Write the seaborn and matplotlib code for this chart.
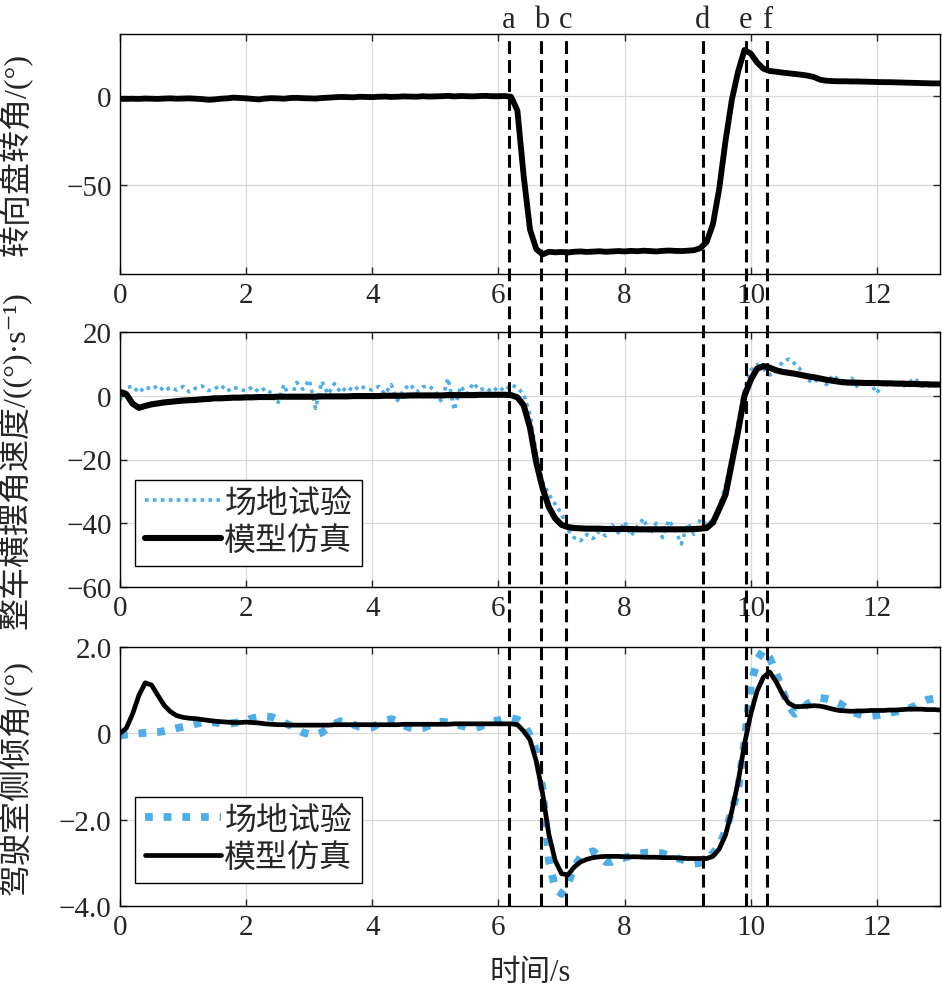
import numpy as np
import matplotlib
matplotlib.use("Agg")
import matplotlib.pyplot as plt
import seaborn as sns
from matplotlib.lines import Line2D
from matplotlib.transforms import blended_transform_factory

# time base of all series, 0.1 s step
t = np.round(np.arange(0, 13.01, 0.1), 1)

# steering wheel angle (deg)
steer = [
    -1.5, -1.5, -1.4, -1.5, -1.3, -1.4, -1.5, -1.3, -1.2, -1.4,
    -1.3, -1.2, -1.4, -1.6, -2.0, -1.8, -1.4, -1.2, -0.8, -1.0,
    -1.2, -1.5, -1.8, -1.3, -1.1, -1.2, -1.4, -1.0, -0.9, -1.1,
    -1.2, -1.3, -1.0, -0.8, -0.6, -0.4, -0.5, -0.6, -0.3, -0.4,
    -0.5, -0.3, -0.2, -0.4, -0.3, -0.1, -0.2, -0.3, 0.0, -0.2,
    -0.1, 0.0, 0.2, -0.1, 0.1, 0.0, -0.1, 0.1, 0.2, 0.0,
    0.0, 0.1, -0.3, -8.0, -45.0, -75.0, -86.0, -89.0, -87.5, -87.8,
    -87.6, -87.9, -87.5, -87.3, -87.6, -87.4, -87.2, -87.5, -87.3, -87.1,
    -87.3, -87.0, -87.2, -86.9, -87.1, -87.3, -87.0, -86.8, -87.0, -87.1,
    -86.9, -86.6, -85.5, -82.0, -72.0, -52.0, -25.0, -2.0, 14.0, 26.0,
    24.0, 19.0, 15.5, 14.2, 13.8, 13.3, 12.9, 12.5, 12.1, 11.6,
    10.8, 9.3, 8.7, 8.5, 8.4, 8.4, 8.3, 8.3, 8.2, 8.1,
    8.0, 7.9, 7.9, 7.8, 7.7, 7.6, 7.5, 7.4, 7.3, 7.2, 7.2,
]

# yaw rate (deg/s): simulation and field test
yaw_sim = [
    1.2, 0.5, -2.5, -3.8, -3.2, -2.7, -2.4, -2.1, -1.9, -1.7,
    -1.5, -1.4, -1.3, -1.1, -1.0, -0.8, -0.8, -0.7, -0.6, -0.6,
    -0.5, -0.5, -0.4, -0.4, -0.4, -0.3, -0.3, -0.3, -0.3, -0.3,
    -0.3, -0.3, -0.2, -0.2, -0.2, -0.2, -0.2, -0.1, -0.1, -0.1,
    -0.1, -0.1, 0.0, 0.0, 0.0, 0.0, 0.1, 0.1, 0.1, 0.1,
    0.1, 0.1, 0.2, 0.2, 0.2, 0.2, 0.2, 0.3, 0.3, 0.3,
    0.3, 0.3, 0.2, -0.5, -3.0, -10.0, -21.0, -29.0, -35.0, -38.5,
    -40.5, -41.2, -41.5, -41.6, -41.7, -41.7, -41.7, -41.8, -41.8, -41.8,
    -41.8, -41.8, -41.9, -41.9, -41.9, -41.9, -41.9, -41.9, -41.9, -41.9,
    -41.9, -41.8, -41.7, -41.5, -39.8, -35.5, -31.0, -21.0, -11.0, 0.0,
    5.0, 8.5, 9.3, 8.8, 8.0, 7.5, 7.2, 6.9, 6.5, 6.1,
    5.8, 5.4, 5.0, 4.7, 4.4, 4.2, 4.1, 4.1, 4.0, 4.0,
    4.0, 3.9, 3.9, 3.8, 3.8, 3.7, 3.7, 3.6, 3.6, 3.5, 3.5,
]
yaw_test = [
    -1.5, 2.5, 3.0, 1.0, 2.8, 2.0, 3.2, 1.5, 2.6, 1.8,
    2.9, 1.2, 2.4, 3.1, 1.6, 2.2, 3.3, 1.4, 2.7, 2.0,
    1.5, 2.8, 1.2, 2.3, 0.8, -2.5, 3.5, -1.5, 4.2, 2.0,
    5.0, -4.0, 4.5, 0.5, 3.8, 1.0, 2.8, 1.5, 3.2, 2.2,
    1.8, 2.9, 0.5, 3.5, -1.5, 2.0, 3.6, 1.2, 2.8, 3.0,
    1.5, -2.0, 5.5, -4.5, 3.0, 0.5, 4.0, 1.8, 2.5, 1.2,
    2.8, 1.5, 3.5, 2.5, 0.5, -6.0, -18.0, -27.0, -31.0, -34.0,
    -37.0, -42.0, -44.5, -45.5, -43.5, -44.8, -42.5, -44.0, -40.5, -43.0,
    -39.5, -44.0, -41.0, -38.5, -43.5, -40.0, -44.5, -39.0, -42.0, -46.5,
    -40.0, -43.5, -38.8, -40.5, -39.0, -35.0, -28.0, -19.0, -8.0, 2.0,
    8.0, 9.8, 8.5, 6.5, 8.0, 10.5, 11.5, 10.0, 8.0, 5.0,
    4.0, 6.0, 3.5, 6.5, 4.8, 3.0, 5.5, 2.5, 4.5, 3.8,
    0.8, 4.5, 3.0, 5.0, 2.8, 4.0, 5.5, 3.2, 2.5, 4.2, 3.0,
]

# cab roll angle (deg): simulation and field test
roll_sim = [
    0.0, 0.12, 0.45, 0.88, 1.17, 1.12, 0.88, 0.65, 0.5, 0.41,
    0.37, 0.35, 0.34, 0.32, 0.3, 0.28, 0.27, 0.26, 0.25, 0.25,
    0.26, 0.25, 0.24, 0.22, 0.21, 0.2, 0.2, 0.19, 0.19, 0.19,
    0.19, 0.19, 0.19, 0.19, 0.2, 0.2, 0.2, 0.2, 0.2, 0.2,
    0.2, 0.2, 0.2, 0.2, 0.2, 0.21, 0.21, 0.21, 0.21, 0.21,
    0.21, 0.21, 0.21, 0.22, 0.22, 0.22, 0.22, 0.22, 0.22, 0.22,
    0.22, 0.22, 0.22, 0.2, 0.05, -0.15, -0.65, -1.4, -2.35, -2.95,
    -3.25, -3.28, -3.1, -2.98, -2.92, -2.88, -2.86, -2.85, -2.85, -2.85,
    -2.86, -2.86, -2.86, -2.87, -2.87, -2.87, -2.88, -2.88, -2.88, -2.89,
    -2.9, -2.9, -2.9, -2.9, -2.85, -2.68, -2.35, -1.8, -1.12, -0.25,
    0.45, 0.98, 1.3, 1.42, 1.2, 0.92, 0.7, 0.62, 0.62, 0.63,
    0.64, 0.63, 0.6, 0.56, 0.53, 0.52, 0.51, 0.52, 0.52, 0.53,
    0.53, 0.53, 0.54, 0.54, 0.55, 0.56, 0.56, 0.56, 0.55, 0.55, 0.54,
]
roll_test = [
    -0.05, -0.03, -0.01, 0.0, 0.01, 0.02, 0.03, 0.05, 0.08, 0.12,
    0.15, 0.18, 0.22, 0.25, 0.26, 0.25, 0.23, 0.22, 0.24, 0.26,
    0.3, 0.35, 0.38, 0.39, 0.38, 0.32, 0.25, 0.18, 0.1, 0.02,
    -0.02, -0.03, 0.02, 0.12, 0.22, 0.28, 0.26, 0.2, 0.15, 0.12,
    0.14, 0.22, 0.3, 0.33, 0.28, 0.18, 0.13, 0.1, 0.12, 0.18,
    0.25, 0.27, 0.25, 0.22, 0.18, 0.14, 0.12, 0.15, 0.22, 0.28,
    0.3, 0.34, 0.35, 0.32, 0.22, -0.05, -0.4, -1.3, -2.95, -3.6,
    -3.72, -3.5, -3.1, -2.87, -2.78, -2.73, -2.85, -2.98, -2.98, -2.92,
    -2.88, -2.84, -2.8, -2.77, -2.76, -2.76, -2.78, -2.83, -2.88, -2.92,
    -2.97, -3.02, -3.0, -2.9, -2.78, -2.6, -2.25, -1.8, -1.3, -0.2,
    1.1, 1.7, 1.93, 1.75, 1.4, 1.0, 0.63, 0.45, 0.55, 0.68,
    0.76, 0.82, 0.8, 0.76, 0.7, 0.6, 0.5, 0.45, 0.41, 0.4,
    0.42, 0.45, 0.48, 0.5, 0.54, 0.57, 0.63, 0.72, 0.78, 0.8, 0.82,
]

# event markers
event_t = [6.17, 6.68, 7.07, 9.24, 9.92, 10.26]
event_labels = ["a", "b", "c", "d", "e", "f"]

legend_labels = ["场地试验", "模型仿真"]
ylabels = ["转向盘转角/(°)", "整车横摆角速度/((°)·s⁻¹)", "驾驶室侧倾角/(°)"]

blue = "#4DAEE8"

sns.set_style("ticks")
plt.rcParams["font.family"] = ["Liberation Serif", "Noto Sans CJK SC", "DejaVu Sans"]
plt.rcParams["axes.unicode_minus"] = True

fig = plt.figure(figsize=(9.42, 10.03), dpi=100)
W, H = 942, 1003
left, right = 120, 940
boxes = [(35, 275), (333, 588), (648, 907)]
axes = []
for top, bot in boxes:
    ax = fig.add_axes([left / W, 1 - bot / H, (right - left) / W, (bot - top) / H])
    axes.append(ax)

ax1, ax2, ax3 = axes

sns.lineplot(x=t, y=steer, ax=ax1, color="k", lw=4.2, estimator=None, sort=False)

sns.lineplot(x=t, y=yaw_test, ax=ax2, color=blue, lw=2.6, estimator=None, sort=False)
ax2.get_lines()[-1].set_dashes((1, 1.2))
sns.lineplot(x=t, y=yaw_sim, ax=ax2, color="k", lw=4.4, estimator=None, sort=False)

sns.lineplot(x=t, y=roll_test, ax=ax3, color=blue, lw=5.6, estimator=None, sort=False)
ax3.get_lines()[-1].set_dashes((1, 1.4))
sns.lineplot(x=t, y=roll_sim, ax=ax3, color="k", lw=3.4, estimator=None, sort=False)

ax1.set_ylim(-100, 35)
ax1.set_yticks([-50, 0])
ax2.set_ylim(-60, 20)
ax2.set_yticks([-60, -40, -20, 0, 20])
ax3.set_ylim(-4, 2)
ax3.set_yticks([-4, -2, 0, 2])
ax3.set_yticklabels(["\u22124.0", "\u22122.0", "0", "2.0"])

for ax, lab in zip(axes, ylabels):
    ax.set_xlim(0, 13)
    ax.set_xticks(range(0, 13, 2))
    ax.grid(True, color="#d9d9d9", lw=0.9)
    ax.set_axisbelow(True)
    ax.tick_params(direction="in", top=True, right=True, length=5, width=1,
                   labelsize=21, pad=6)
    for s in ax.spines.values():
        s.set_color("k")
        s.set_linewidth(1.0)
    ax.set_xlabel("")
    ax.set_ylabel(lab, fontsize=23)
    ax.yaxis.set_label_coords(-0.107, 0.5)

ax3.set_xlabel("时间/s", fontsize=22)
ax3.xaxis.set_label_coords(0.5, -0.2)

# legends
for ax, bot_px, ax_h in [(ax2, 21, 255), (ax3, 23, 259)]:
    lines = ax.get_lines()[-2:]
    leg = ax.legend(lines, legend_labels, loc="lower left",
                    bbox_to_anchor=(15 / 820, bot_px / ax_h), borderaxespad=0,
                    frameon=True, fancybox=False, edgecolor="k", framealpha=1,
                    fontsize=23, handlelength=2.4, handletextpad=0.1,
                    borderpad=0.3, labelspacing=0.25)
    leg.get_frame().set_linewidth(1.0)

# event lines across the three panels
trans = blended_transform_factory(ax1.transData, fig.transFigure)
y_top = 1 - 35 / H
y_bot = 1 - 907 / H
for x, lab in zip(event_t, event_labels):
    fig.add_artist(Line2D([x, x], [y_bot, y_top], transform=trans, color="k",
                          lw=2.2, dashes=(4.2, 2.0)))
    fig.text(x, 1 - 28 / H, lab, transform=trans, ha="center", va="baseline",
             fontsize=22)

fig.savefig("out.png", dpi=100)
